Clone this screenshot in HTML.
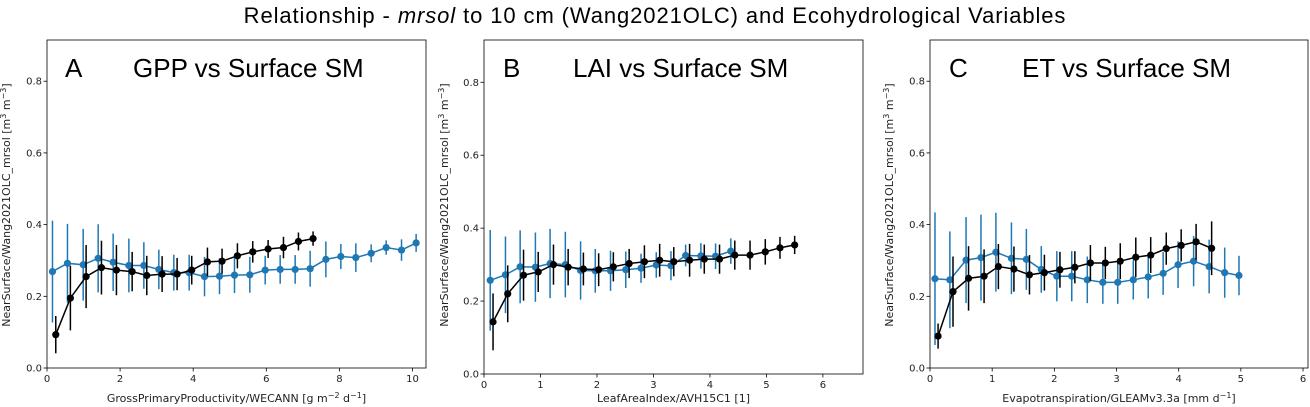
<!DOCTYPE html>
<html><head><meta charset="utf-8"><style>
body{margin:0;background:#fff;}
svg{display:block;font-family:"DejaVu Sans","Liberation Sans",sans-serif;}
</style></head><body>
<svg id="fig" width="1310" height="407" xmlns="http://www.w3.org/2000/svg">
<text x="655" y="23" text-anchor="middle" font-family="Liberation Sans, sans-serif" font-size="22" letter-spacing="0.9" fill="#000">Relationship - <tspan font-style="italic">mrsol</tspan> to 10 cm (Wang2021OLC) and Ecohydrological Variables</text>
</svg>
<script>
// Panel A data
const aBlueX=[0.15,0.56,0.99,1.4,1.81,2.24,2.65,3.06,3.47,3.89,4.31,4.72,5.13,5.55,5.97,6.38,6.79,7.2,7.63,8.04,8.45,8.87,9.28,9.7,10.1];
const aBlueY=[0.269,0.292,0.288,0.306,0.295,0.286,0.286,0.275,0.266,0.266,0.255,0.256,0.259,0.26,0.273,0.275,0.275,0.277,0.303,0.311,0.308,0.32,0.336,0.329,0.349];
const aBlueE=[0.142,0.11,0.1,0.095,0.08,0.075,0.065,0.055,0.05,0.05,0.055,0.05,0.05,0.05,0.04,0.04,0.04,0.05,0.05,0.035,0.04,0.025,0.02,0.03,0.025];
const aBlackX=[0.24,0.64,1.07,1.49,1.9,2.33,2.73,3.15,3.56,3.96,4.39,4.79,5.21,5.63,6.05,6.47,6.88,7.28];
const aBlackY=[0.093,0.195,0.255,0.28,0.273,0.269,0.258,0.262,0.262,0.273,0.296,0.298,0.313,0.324,0.332,0.336,0.353,0.361];
const aBlackE=[0.052,0.09,0.088,0.075,0.07,0.055,0.055,0.05,0.045,0.04,0.04,0.035,0.035,0.03,0.025,0.03,0.025,0.02];
const aXTicks=[0,2,4,6,8,10];
// Panel B data
const bBlueX=[0.11,0.38,0.64,0.91,1.17,1.44,1.71,1.97,2.24,2.51,2.78,3.05,3.31,3.57,3.84,4.1,4.37];
const bBlueY=[0.257,0.272,0.294,0.293,0.303,0.3,0.284,0.283,0.283,0.286,0.29,0.299,0.297,0.325,0.324,0.323,0.337];
const bBlueE=[0.138,0.105,0.1,0.095,0.095,0.09,0.08,0.06,0.055,0.05,0.04,0.035,0.04,0.03,0.035,0.035,0.035];
const bBlackX=[0.16,0.42,0.7,0.96,1.23,1.49,1.76,2.03,2.29,2.57,2.84,3.11,3.36,3.64,3.9,4.17,4.44,4.71,4.98,5.24,5.5];
const bBlackY=[0.143,0.22,0.271,0.28,0.3,0.293,0.288,0.286,0.294,0.303,0.308,0.312,0.308,0.312,0.315,0.315,0.326,0.326,0.335,0.346,0.354];
const bBlackE=[0.078,0.078,0.07,0.055,0.055,0.05,0.045,0.045,0.04,0.04,0.045,0.045,0.04,0.045,0.04,0.04,0.04,0.04,0.035,0.03,0.025];
const bXTicks=[0,1,2,3,4,5,6];
// Panel C data
const cBlueX=[0.08,0.32,0.58,0.82,1.06,1.31,1.55,1.79,2.04,2.28,2.53,2.78,3.02,3.27,3.51,3.75,3.99,4.24,4.49,4.74,4.97];
const cBlueY=[0.249,0.246,0.301,0.308,0.323,0.306,0.303,0.275,0.256,0.256,0.246,0.239,0.239,0.246,0.254,0.264,0.288,0.298,0.283,0.266,0.258];
const cBlueE=[0.185,0.135,0.12,0.12,0.11,0.1,0.085,0.065,0.07,0.07,0.065,0.06,0.06,0.055,0.06,0.06,0.065,0.07,0.075,0.07,0.055];
const cBlackX=[0.13,0.37,0.62,0.87,1.1,1.35,1.6,1.84,2.09,2.33,2.58,2.82,3.06,3.31,3.55,3.8,4.04,4.28,4.53];
const cBlackY=[0.089,0.213,0.25,0.256,0.283,0.276,0.26,0.266,0.274,0.281,0.293,0.293,0.298,0.309,0.315,0.333,0.342,0.352,0.334];
const cBlackE=[0.035,0.098,0.09,0.075,0.063,0.063,0.055,0.05,0.05,0.045,0.05,0.045,0.05,0.055,0.05,0.045,0.045,0.05,0.075];
const cXTicks=[0,1,2,3,4,5,6];
const yTicks=[0.0,0.2,0.4,0.6,0.8];

const NS='http://www.w3.org/2000/svg';
const svg=document.getElementById('fig');
function mk(tag,attrs,parent){const e=document.createElementNS(NS,tag);for(const k in attrs)e.setAttribute(k,attrs[k]);(parent||svg).appendChild(e);return e;}

function panel(p){
  const g=mk('g',{});
  
  
  const sx=v=>p.L+(v-p.x0)/(p.x1-p.x0)*(p.R-p.L);
  const sy=v=>p.B-(v-p.y0)/(p.y1-p.y0)*(p.B-p.T);
  const fr=mk('rect',{x:p.L,y:p.T,width:p.R-p.L,height:p.B-p.T,fill:'none',stroke:'#000','stroke-width':0.8},g);
  
  
  p.xt.forEach(t=>{
    const x=sx(t);
    mk('line',{x1:x,x2:x,y1:p.B,y2:p.B+3.5,stroke:'#000','stroke-width':0.8},g);
    const tx=mk('text',{x:x,y:p.B+14,'text-anchor':'middle','font-size':10,fill:'#222'},g);
    tx.textContent=String(t);
    
    
  });
  yTicks.forEach(t=>{
    const y=sy(t);
    mk('line',{x1:p.L-3.5,x2:p.L,y1:y,y2:y,stroke:'#000','stroke-width':0.8},g);
    const tx=mk('text',{x:p.L-5,y:y+3.5,'text-anchor':'end','font-size':10,fill:'#222'},g);
    tx.textContent=t.toFixed(1);
    
    
  });
  const xl=mk('text',{x:(p.L+p.R)/2,y:402,'text-anchor':'middle','font-size':11,fill:'#222'},g);
  xl.innerHTML=p.xlab;
  
  
  const yl=mk('text',{x:0,y:0,'text-anchor':'middle','font-size':11,fill:'#222',transform:`translate(${p.ylx},205) rotate(-90)`},g);
  yl.innerHTML='NearSurface/Wang2021OLC_mrsol [m<tspan dy="-4" font-size="8">3</tspan><tspan dy="4"> m</tspan><tspan dy="-4" font-size="8">−3</tspan><tspan dy="4">]</tspan>';
  
  
  const lab=mk('text',{x:p.lx,y:77,'font-size':26,'font-family':'Liberation Sans, sans-serif',fill:'#000'},g);
  lab.textContent=p.id;
  
  
  const ti=mk('text',{x:p.tx,y:77,'font-size':26,'font-family':'Liberation Sans, sans-serif',fill:'#000'},g);
  ti.textContent=p.title;
  
  
  p.series.forEach(s=>{
    const sg=mk('g',{},g);
    
    
    s.x.forEach((xv,i)=>{
      const eb=mk('line',{x1:sx(xv),x2:sx(xv),y1:sy(s.y[i]-s.e[i]),y2:sy(s.y[i]+s.e[i]),stroke:s.c,'stroke-width':1.5},sg);
      
      
    });
    const pl=mk('polyline',{points:s.x.map((xv,i)=>sx(xv)+','+sy(s.y[i])).join(' '),fill:'none',stroke:s.c,'stroke-width':1.5},sg);
    
    
    s.x.forEach((xv,i)=>{
      const c=mk('circle',{cx:sx(xv),cy:sy(s.y[i]),r:3.6,fill:s.c},sg);
      
      
    });
  });
}
const blue='#1f77b4', black='#000';
panel({id:'A',L:47,R:426,T:40,B:368,x0:0,x1:10.37,y0:0,y1:0.915,xt:aXTicks,ylx:10,lx:65,tx:133,title:'GPP vs Surface SM',
  xlab:'GrossPrimaryProductivity/WECANN [g m<tspan dy="-4" font-size="8">−2</tspan><tspan dy="4"> d</tspan><tspan dy="-4" font-size="8">−1</tspan><tspan dy="4">]</tspan>',
  series:[{name:'blue-series',c:blue,x:aBlueX,y:aBlueY,e:aBlueE},{name:'black-series',c:black,x:aBlackX,y:aBlackY,e:aBlackE}]});
panel({id:'B',L:484,R:863,T:40,B:374,x0:0,x1:6.71,y0:0,y1:0.916,xt:bXTicks,ylx:448,lx:503,tx:573,title:'LAI vs Surface SM',
  xlab:'LeafAreaIndex/AVH15C1 [1]',
  series:[{name:'blue-series',c:blue,x:bBlueX,y:bBlueY,e:bBlueE},{name:'black-series',c:black,x:bBlackX,y:bBlackY,e:bBlackE}]});
panel({id:'C',L:930,R:1308,T:40,B:368,x0:0,x1:6.08,y0:0,y1:0.915,xt:cXTicks,ylx:893,lx:949,tx:1022,title:'ET vs Surface SM',
  xlab:'Evapotranspiration/GLEAMv3.3a [mm d<tspan dy="-4" font-size="8">−1</tspan><tspan dy="4">]</tspan>',
  series:[{name:'blue-series',c:blue,x:cBlueX,y:cBlueY,e:cBlueE},{name:'black-series',c:black,x:cBlackX,y:cBlackY,e:cBlackE}]});
</script>
</body></html>
